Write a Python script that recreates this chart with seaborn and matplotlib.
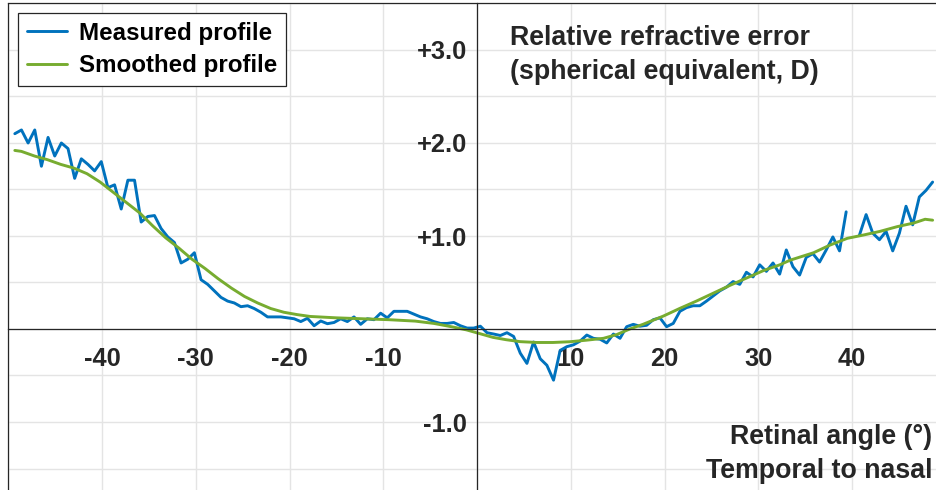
import numpy as np
import pandas as pd
import matplotlib
matplotlib.use("Agg")
import matplotlib.pyplot as plt
import seaborn as sns
from matplotlib.lines import Line2D
from matplotlib.ticker import FixedLocator, FuncFormatter

# Retinal angle sampling (degrees, temporal -> nasal)
angle_deg = np.linspace(-49.3, 48.6, 139)

# Measured relative refraction (D); NaN marks a missing sample
measured_D = [
    2.10, 2.14, 2.00, 2.14, 1.75, 2.06, 1.86, 2.00, 1.94, 1.62,
    1.83, 1.77, 1.70, 1.80, 1.52, 1.55, 1.29, 1.60, 1.60, 1.15,
    1.21, 1.22, 1.08, 0.99, 0.93, 0.71, 0.75, 0.82, 0.53, 0.48,
    0.41, 0.34, 0.30, 0.28, 0.24, 0.25, 0.22, 0.18, 0.13, 0.13,
    0.13, 0.12, 0.11, 0.08, 0.115, 0.035, 0.086, 0.057, 0.07, 0.11,
    0.08, 0.13, 0.05, 0.11, 0.10, 0.17, 0.12, 0.19, 0.19, 0.19,
    0.16, 0.13, 0.11, 0.08, 0.06, 0.06, 0.07, 0.035, 0.01, 0.01,
    0.03, -0.04, -0.054, -0.07, -0.04, -0.08, -0.26, -0.37, -0.14, -0.32,
    -0.39, -0.55, -0.23, -0.19, -0.17, -0.13, -0.065, -0.10, -0.11, -0.15,
    -0.054, -0.10, 0.025, 0.05, 0.03, 0.04, 0.10, 0.12, 0.025, 0.06,
    0.19, 0.23, 0.25, 0.25, 0.30, 0.355, 0.41, 0.45, 0.51, 0.48,
    0.61, 0.56, 0.69, 0.62, 0.71, 0.59, 0.85, 0.67, 0.58, 0.77,
    0.81, 0.72, 0.85, 0.99, 0.84, 1.26, np.nan, 1.01, 1.23, 1.03,
    0.96, 1.05, 0.84, 1.03, 1.32, 1.12, 1.42, 1.49, 1.58,
]

# Smoothed profile
smooth_angle_deg = [
    -49.3, -48.6, -47.2, -45.8, -44.4, -43.0, -41.6, -40.2, -38.8, -37.4,
    -36.0, -34.6, -33.2, -31.8, -30.4, -29.0, -27.6, -26.2, -24.8, -23.4,
    -22.0, -20.6, -19.2, -17.8, -15.0, -12.2, -9.4, -6.6, -4.6, -2.5,
    -1.1, 0.3, 1.7, 3.1, 4.6, 6.4, 8.1, 9.9, 11.7, 13.5,
    14.9, 16.3, 17.7, 19.9, 21.6, 23.4, 25.2, 27.0, 28.8, 30.6,
    32.3, 33.4, 35.9, 37.6, 39.5, 41.2, 43.0, 44.8, 46.6, 47.8, 48.6,
]
smooth_D = [
    1.92, 1.91, 1.86, 1.82, 1.77, 1.73, 1.67, 1.58, 1.47, 1.36,
    1.25, 1.11, 0.98, 0.87, 0.75, 0.65, 0.54, 0.44, 0.35, 0.28,
    0.22, 0.18, 0.155, 0.135, 0.12, 0.11, 0.10, 0.085, 0.06, 0.02,
    -0.01, -0.05, -0.09, -0.115, -0.136, -0.145, -0.145, -0.137, -0.12, -0.10,
    -0.06, 0.0, 0.05, 0.14, 0.22, 0.30, 0.385, 0.47, 0.55, 0.63,
    0.69, 0.74, 0.82, 0.90, 0.975, 1.01, 1.05, 1.10, 1.14, 1.18, 1.17,
]

series_names = ["Measured profile", "Smoothed profile"]
series_colors = ["#0072BD", "#77AC30"]

x_ticks = [-50, -40, -30, -20, -10, 10, 20, 30, 40, 50]
x_labelled = [-40, -30, -20, -10, 10, 20, 30, 40]
y_ticks = [-2.0, -1.5, -1.0, -0.5, 0.5, 1.0, 1.5, 2.0, 2.5, 3.0, 3.5]
y_labelled = {-1.0: "-1.0", 1.0: "+1.0", 2.0: "+2.0", 3.0: "+3.0"}

# ---- tidy table: the gap in the measured series becomes two line units
meas = pd.DataFrame({"angle": angle_deg, "D": measured_D})
meas["profile"] = series_names[0]
meas["unit"] = meas["D"].isna().cumsum()
meas = meas.dropna()
smth = pd.DataFrame({"angle": smooth_angle_deg, "D": smooth_D})
smth["profile"] = series_names[1]
smth["unit"] = 0
data = pd.concat([meas, smth], ignore_index=True)

sns.set_style("white")
plt.rcParams["font.family"] = ["Liberation Sans", "DejaVu Sans"]
plt.rcParams["font.weight"] = "bold"

W, H = 936, 490
fig = plt.figure(figsize=(W / 100, H / 100), dpi=100)

x_lo, x_hi = -50, 50
y_lo, y_hi = -2.0, 3.5
px_x, x0_px = 9.375, 477.0
px_y, y0_px = 93.0, 329.0
left_px = x0_px + x_lo * px_x
right_px = x0_px + x_hi * px_x
top_px = y0_px - y_hi * px_y
bot_px = y0_px - y_lo * px_y
ax = fig.add_axes([left_px / W, 1 - bot_px / H,
                   (right_px - left_px) / W, (bot_px - top_px) / H])

axis_col = "#262626"
grid_col = "#e4e4e4"

sns.lineplot(data=data, x="angle", y="D", hue="profile", units="unit",
             estimator=None, sort=False, palette=series_colors,
             hue_order=series_names, linewidth=2.1, legend=False, ax=ax)

ax.set_xlim(x_lo, x_hi)
ax.set_ylim(y_lo, y_hi)
ax.set_xlabel("")
ax.set_ylabel("")

# grid: every 10 deg vertically, every 0.5 D horizontally
for gx in range(-50, 51, 10):
    ax.axvline(gx, color=grid_col, lw=1.0, zorder=0)
for gy in np.arange(-2.0, 3.51, 0.5):
    ax.axhline(gy, color=grid_col, lw=1.0, zorder=0)

# axes crossing at the origin
ax.spines["left"].set_position(("data", 0))
ax.spines["bottom"].set_position(("data", 0))
for s in ["left", "bottom", "top", "right"]:
    ax.spines[s].set_color(axis_col)
    ax.spines[s].set_linewidth(0.9)
    ax.spines[s].set_visible(True)
ax.add_line(Line2D([0, 0], [0, 1], transform=ax.transAxes, color=axis_col,
                   lw=0.9, clip_on=False))

ax.xaxis.set_major_locator(FixedLocator(x_ticks))
ax.xaxis.set_major_formatter(FuncFormatter(
    lambda v, p: f"{int(round(v))}" if int(round(v)) in x_labelled else ""))
ax.yaxis.set_major_locator(FixedLocator(y_ticks))
ax.yaxis.set_major_formatter(FuncFormatter(
    lambda v, p: y_labelled.get(round(v, 1), "")))

ax.tick_params(axis="x", direction="in", length=6.8, width=0.9, color=axis_col,
               pad=13.0, labelsize=18.3, labelcolor=axis_col)
ax.tick_params(axis="y", direction="in", length=7.2, width=0.9, color=axis_col,
               pad=7.2, labelsize=18.3, labelcolor=axis_col)
for lab in ax.get_xticklabels() + ax.get_yticklabels():
    lab.set_fontweight("bold")

# legend
handles = [Line2D([], [], color=c, lw=2.1) for c in series_colors]
leg = ax.legend(handles, series_names, loc="upper left",
                bbox_to_anchor=(18 / W, 1 - 13 / H), bbox_transform=fig.transFigure,
                borderaxespad=0, frameon=True, fancybox=False, framealpha=1,
                edgecolor=axis_col, handlelength=1.68, handletextpad=0.5,
                borderpad=0.36, labelspacing=0.4,
                prop={"weight": "bold", "size": 17.4})
leg.get_frame().set_linewidth(0.9)
for t in leg.get_texts():
    t.set_color("black")

# annotations
txt_kw = dict(fontsize=19.3, fontweight="bold", color=axis_col)
fig.text(510 / W, 1 - 45 / H, "Relative refractive error", ha="left", va="baseline", **txt_kw)
fig.text(510 / W, 1 - 79 / H, "(spherical equivalent, D)", ha="left", va="baseline", **txt_kw)
fig.text(932 / W, 1 - 444 / H, "Retinal angle (°)", ha="right", va="baseline", **txt_kw)
fig.text(932 / W, 1 - 478 / H, "Temporal to nasal", ha="right", va="baseline", **txt_kw)

fig.savefig("out.png", dpi=100)
